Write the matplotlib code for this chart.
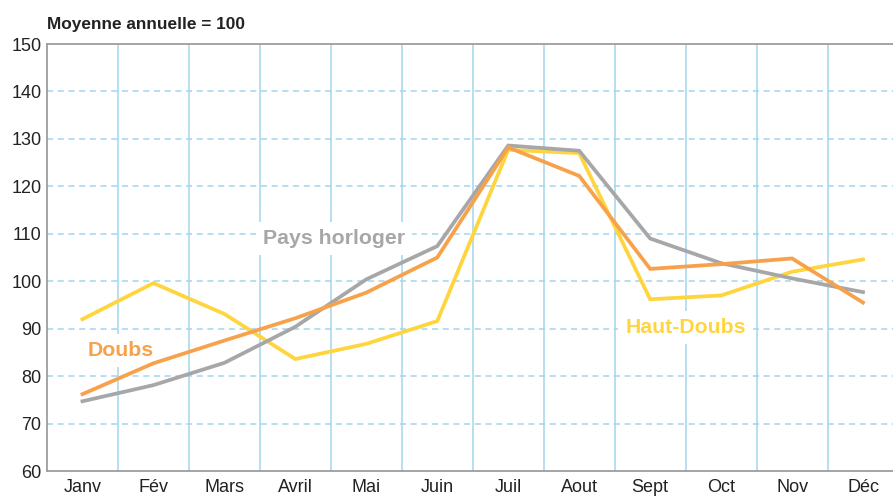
import matplotlib
matplotlib.use("Agg")
import matplotlib.pyplot as plt

mois = ["Janv", "Fév", "Mars", "Avril", "Mai", "Juin", "Juil", "Aout", "Sept", "Oct", "Nov", "Déc"]
pays_horloger = [74.7, 78.1, 82.8, 90.4, 100.4, 107.4, 128.6, 127.5, 109.0, 103.8, 100.6, 97.7]
doubs = [76.2, 82.7, 87.5, 92.2, 97.6, 105.0, 128.2, 122.2, 102.6, 103.6, 104.8, 95.5]
haut_doubs = [92.0, 99.6, 93.1, 83.6, 86.8, 91.6, 127.7, 127.0, 96.2, 97.0, 102.0, 104.6]

gris = "#a7a7a9"
orange = "#f7a24b"
jaune = "#ffd53d"
bleu = "#a3d5ef"

plt.rcParams["font.family"] = ["Liberation Sans", "DejaVu Sans"]

fig = plt.figure(figsize=(8.93, 4.97), dpi=100)
ax = fig.add_axes([47 / 893, 1 - 471 / 497, 851.5 / 893, 427 / 497])

x = list(range(len(mois)))

# grille : verticales pleines entre les mois, horizontales en tirets
for xv in [i + 0.5 for i in range(11)]:
    ax.axvline(xv, color=bleu, lw=1.1, zorder=1)
for yv in range(70, 150, 10):
    ax.axhline(yv, color=bleu, lw=1.1, ls=(0, (4, 3)), zorder=1)

ax.plot(x, pays_horloger, color=gris, lw=2.7, zorder=4, solid_joinstyle="miter")
ax.plot(x, doubs, color=orange, lw=2.7, zorder=5, solid_joinstyle="miter")
ax.plot(x, haut_doubs, color=jaune, lw=2.7, zorder=3, solid_joinstyle="miter")

box = dict(facecolor="white", edgecolor="none", pad=5)
ax.text(3.54, 109.1, "Pays horloger", color=gris, fontsize=15.3, fontweight="bold",
        ha="center", va="center", bbox=box, zorder=2)
ax.text(0.54, 85.5, "Doubs", color=orange, fontsize=15.3, fontweight="bold",
        ha="center", va="center", bbox=box, zorder=2)
ax.text(8.5, 90.3, "Haut-Doubs", color=jaune, fontsize=15.3, fontweight="bold",
        ha="center", va="center", bbox=box, zorder=2)

ax.set_xlim(-0.5, 11.5)
ax.set_ylim(60, 150)
ax.set_xticks(x)
ax.set_xticklabels(mois)
ax.set_yticks(range(60, 151, 10))
ax.tick_params(axis="both", length=0, labelsize=13, colors="#222222")
ax.tick_params(axis="x", pad=6)
ax.tick_params(axis="y", pad=4)

for s in ["left", "bottom", "top"]:
    ax.spines[s].set_color("#9d9d9f")
    ax.spines[s].set_linewidth(1.3)
ax.spines["right"].set_visible(False)

fig.text(47 / 893, 1 - 25 / 497, "Moyenne annuelle = 100", fontsize=12.4,
         fontweight="bold", color="#222222", ha="left", va="center")

fig.savefig("out.png", dpi=100)
